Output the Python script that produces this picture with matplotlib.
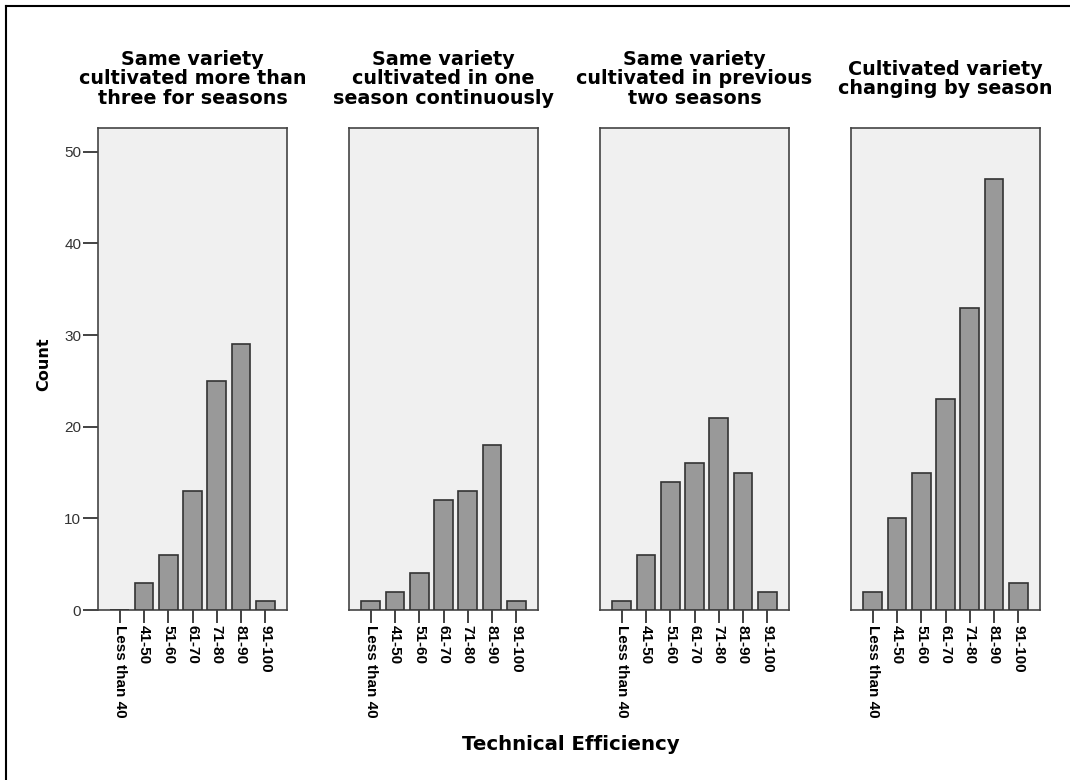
#!/usr/bin/env python3

# Count of technical efficiency classes, one panel per cultivation pattern.

import matplotlib
matplotlib.use("Agg")
import matplotlib.pyplot as plt
from matplotlib.lines import Line2D
import numpy as np

panel_titles = [
    "Same variety\ncultivated more than\nthree for seasons",
    "Same variety\ncultivated in one\nseason continuously",
    "Same variety\ncultivated in previous\ntwo seasons",
    "Cultivated variety\nchanging by season",
]
categories = ["Less than 40", "41-50", "51-60", "61-70", "71-80", "81-90", "91-100"]
more_than_three = [0, 3, 6, 13, 25, 29, 1]
one_season = [1, 2, 4, 12, 13, 18, 1]
previous_two = [1, 6, 14, 16, 21, 15, 2]
changing = [2, 10, 15, 23, 33, 47, 3]
y_ticks = [0, 10, 20, 30, 40, 50]

FIG_W, FIG_H = 1070, 780
PANEL_LEFTS = [98, 349, 600, 851]
PANEL_W = 189
PANEL_TOP, PANEL_BOTTOM = 128, 610
ARIAL = ["Liberation Sans", "DejaVu Sans"]


def main():
    plt.rcParams["font.family"] = ["DejaVu Sans"]
    fig = plt.figure(figsize=(FIG_W / 100, FIG_H / 100), dpi=100)

    series = [more_than_three, one_season, previous_two, changing]
    x = np.arange(len(categories))

    for idx, values in enumerate(series):
        left = PANEL_LEFTS[idx] / FIG_W
        bottom = (FIG_H - PANEL_BOTTOM) / FIG_H
        width = PANEL_W / FIG_W
        height = (PANEL_BOTTOM - PANEL_TOP) / FIG_H
        ax = fig.add_axes([left, bottom, width, height])
        ax.set_facecolor("#f0f0f0")
        ax.bar(x, values, 0.78, color="#999999", edgecolor="#333333",
               linewidth=1.2, zorder=3)
        ax.set_xlim(-0.9, 6.9)
        ax.set_ylim(0, 52.6)
        for spine in ax.spines.values():
            spine.set_color("#444444")
            spine.set_linewidth(1.2)

        ax.set_xticks(x)
        ax.set_xticklabels(categories, rotation=270, fontsize=11,
                           fontweight="bold", family=ARIAL,
                           va="top", ha="center")
        ax.tick_params(axis="x", length=9, width=1.2, color="#222222",
                       pad=2)
        if idx == 0:
            ax.set_yticks(y_ticks)
            ax.set_yticklabels([str(v) for v in y_ticks], family=ARIAL)
            ax.tick_params(axis="y", length=11, width=1.2, color="#222222",
                           labelsize=11, labelcolor="#333333", pad=1)
        else:
            ax.set_yticks([])

        # Titles are centred on a common line above the panels
        cx = (PANEL_LEFTS[idx] + PANEL_W / 2) / FIG_W
        fig.text(cx, 1 - 79 / FIG_H, panel_titles[idx], fontsize=13.8,
                 fontweight="bold", ha="center", va="center",
                 multialignment="center", linespacing=1.01)

    fig.text(44 / FIG_W, 1 - 364 / FIG_H, "Count", fontsize=11.6,
             fontweight="bold", rotation=90, ha="center", va="center")
    fig.text(571 / FIG_W, 1 - 745 / FIG_H, "Technical Efficiency",
             fontsize=14.2, fontweight="bold", ha="center", va="center")

    # Outer frame (only left and top edges are visible)
    fig.add_artist(Line2D([6 / FIG_W, 6 / FIG_W], [0, 1 - 6 / FIG_H],
                          transform=fig.transFigure, color="black", lw=1.5))
    fig.add_artist(Line2D([6 / FIG_W, 1], [1 - 6 / FIG_H, 1 - 6 / FIG_H],
                          transform=fig.transFigure, color="black", lw=1.5))

    fig.savefig("out.png", dpi=100)


if __name__ == "__main__":
    main()
